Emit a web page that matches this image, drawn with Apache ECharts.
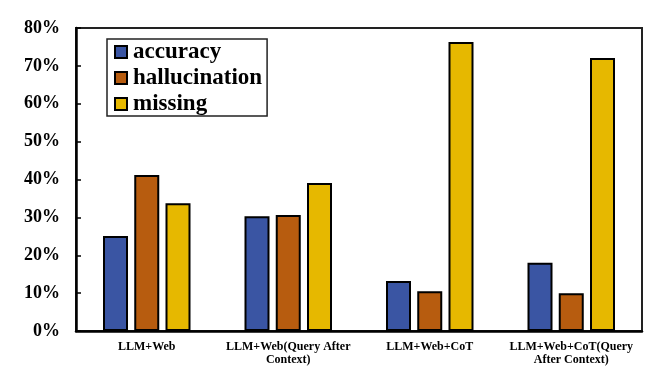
<!DOCTYPE html>
<html><head><meta charset="utf-8">
<script src="https://cdn.jsdelivr.net/npm/echarts@6/dist/echarts.min.js"></script>
<style>html,body{margin:0;padding:0;background:#fff}#c{width:668px;height:385px}</style>
</head><body><div id="c"></div>
<script>
var categories = ['LLM+Web', 'LLM+Web(Query After\nContext)', 'LLM+Web+CoT', 'LLM+Web+CoT(Query\nAfter Context)'];
var accuracy = [25.1, 30.3, 13.2, 18.0];
var hallucination = [41.2, 30.6, 10.5, 10.0];
var missing = [33.7, 39.1, 76.3, 72.1];
var yTicks = [0, 10, 20, 30, 40, 50, 60, 70, 80];

var FONT = '"Liberation Serif", "Times New Roman", serif';
var chart = echarts.init(document.getElementById('c'), null, {renderer: 'canvas'});
function bar(name, data, color) {
  return {
    name: name, type: 'bar', data: data, barWidth: 25, barGap: '25%',
    itemStyle: {color: color, borderColor: '#000', borderWidth: 2}
  };
}
chart.setOption({
  backgroundColor: '#fff',
  animation: false,
  grid: {left: 76, right: 26, top: 28, bottom: 54, show: true, borderColor: '#222', borderWidth: 2},
  legend: {
    orient: 'vertical', left: 107, top: 39,
    icon: 'rect',
    itemWidth: 12, itemHeight: 12, itemGap: 2,
    padding: [1, 5, 0, 7],
    borderColor: '#222', borderWidth: 1.5,
    textStyle: {fontFamily: FONT, fontWeight: 'bold', fontSize: 23, color: '#000', lineHeight: 24, padding: [0, 0, 0, 1]},
    data: ['accuracy', 'hallucination', 'missing']
  },
  xAxis: {
    type: 'category', data: categories,
    axisLine: {lineStyle: {color: '#000', width: 2.5}},
    axisTick: {show: true, inside: true, length: 3, alignWithLabel: true, lineStyle: {color: '#000'}},
    axisLabel: {fontFamily: FONT, fontWeight: 'bold', fontSize: 12, color: '#000', margin: 9, lineHeight: 13, interval: 0}
  },
  yAxis: {
    type: 'value', min: 0, max: 80, interval: 10,
    axisLine: {show: true, lineStyle: {color: '#000', width: 2.5}},
    axisTick: {show: true, inside: true, length: 5, lineStyle: {color: '#000', width: 1.5}},
    splitLine: {show: false},
    axisLabel: {fontFamily: FONT, fontWeight: 'bold', fontSize: 18, color: '#000', margin: 16,
      formatter: function (v) { return yTicks.indexOf(v) >= 0 ? v + '%' : ''; }}
  },
  series: [
    bar('accuracy', accuracy, '#3A55A3'),
    bar('hallucination', hallucination, '#B75C0F'),
    bar('missing', missing, '#E6B800')
  ]
});
</script></body></html>
